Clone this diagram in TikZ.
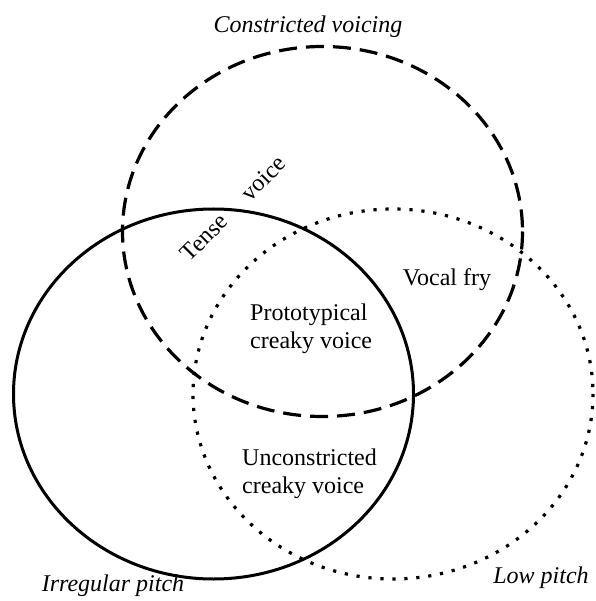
\documentclass[tikz,border=0pt]{standalone}
\usepackage{fontspec}
\setmainfont{Liberation Serif}
\begin{document}
\begin{tikzpicture}[x=1pt,y=-1pt,
  lbl/.style={inner sep=0pt, font=\fontsize{24}{28}\selectfont},
  ilbl/.style={lbl, font=\fontsize{24}{28}\selectfont\itshape},
  dashline/.style={line width=3.2pt, dash pattern=on 18pt off 9pt},
  dotline/.style={line width=3.2pt, dash pattern=on 3.2pt off 8.8pt},
  solidline/.style={line width=3pt}]
\path[use as bounding box] (0,0) rectangle (595,601);
% circles
\draw[dashline] (322.5,231.5) ellipse [x radius=200, y radius=185];
\draw[solidline] (213.5,394) ellipse [x radius=200, y radius=185];
\draw[dotline] (393,394) ellipse [x radius=200, y radius=185];
% labels
\node[ilbl] (cv) at (308,27) {Constricted voicing};
\node[ilbl] (ip) at (113,586) {Irregular pitch};
\node[ilbl] (lp) at (541,578) {Low pitch};
\node[lbl] (vf) at (447,280) {Vocal fry};
\node[lbl, rotate=45] (tv) at (233,208.5) {Tense\hspace{30pt}voice};
\node[lbl, align=left, anchor=west] (proto) at (250,329) {Prototypical\\creaky voice};
\node[lbl, align=left, anchor=west] (uncon) at (242,474) {Unconstricted\\creaky voice};
\end{tikzpicture}
\end{document}
